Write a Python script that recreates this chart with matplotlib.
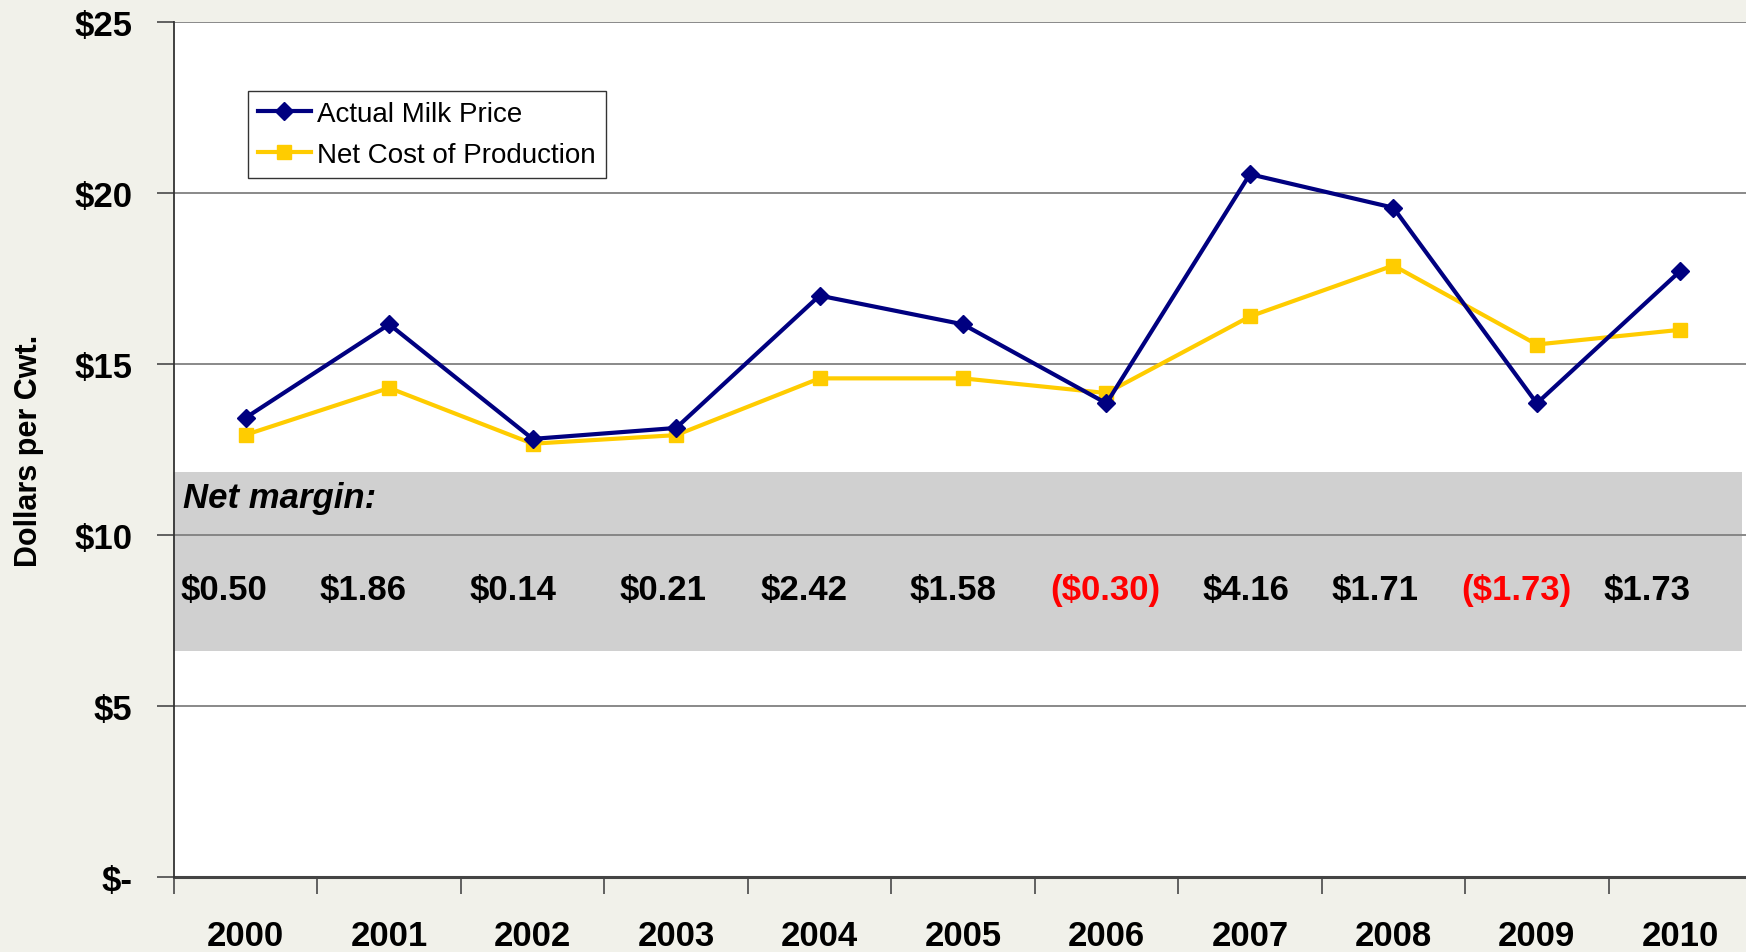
import matplotlib
matplotlib.use("Agg")
import matplotlib.pyplot as plt
from matplotlib.patches import Rectangle

plt.rcParams['font.family'] = ['Liberation Sans', 'DejaVu Sans']

years = ["2000", "2001", "2002", "2003", "2004", "2005", "2006", "2007", "2008", "2009", "2010"]
milk_price = [13.43, 16.16, 12.81, 13.13, 17.00, 16.16, 13.85, 20.55, 19.57, 13.85, 17.72]
net_cost = [12.93, 14.30, 12.67, 12.92, 14.58, 14.58, 14.15, 16.39, 17.88, 15.57, 16.00]
margin_labels = ["$0.50", "$1.86", "$0.14", "$0.21", "$2.42", "$1.58", "($0.30)",
                 "$4.16", "$1.71", "($1.73)", "$1.73"]
margin_negative = [False, False, False, False, False, False, True, False, False, True, False]
ytick_vals = [0, 5, 10, 15, 20, 25]
ytick_labels = ["$-", "$5", "$10", "$15", "$20", "$25"]

# label x offsets (layout only)
label_offsets = [-0.15, -0.18, -0.14, -0.09, -0.11, -0.07, -0.01, -0.03, -0.13, -0.14, -0.23]

W, H = 1746, 953
fig = plt.figure(figsize=(W / 100, H / 100), dpi=100)
fig.patch.set_facecolor('#F1F1EA')

ax = fig.add_axes([174 / W, 75 / H, (1752 - 174) / W, (878 - 23) / H])
ax.set_facecolor('white')

x = list(range(len(years)))
ax.set_xlim(-0.5, len(years) - 0.5)
ax.set_ylim(0, 25)

# gray band
ax.add_patch(Rectangle((-0.51, 6.6), 10.94, 11.83 - 6.6, facecolor='#D0D0D0',
                       edgecolor='none', zorder=0.5, clip_on=False))

# grid
for v in ytick_vals[1:]:
    ax.axhline(v, color='#808080', lw=1.3, zorder=1)

ax.plot(x, milk_price, color='#000080', lw=3, marker='D', markersize=9.5,
        label='Actual Milk Price', zorder=4)
ax.plot(x, net_cost, color='#FFCC00', lw=3, marker='s', markersize=10.5,
        label='Net Cost of Production', zorder=3)

ax.text(-0.44, 11.09, "Net margin:", fontsize=25, fontweight='bold', style='italic',
        va='center', ha='left', zorder=5)
for i, (lab, neg) in enumerate(zip(margin_labels, margin_negative)):
    ax.text(i + label_offsets[i], 8.42, lab, fontsize=25, fontweight='bold',
            color='#FF0000' if neg else 'black', ha='center', va='center', zorder=5)

ax.set_yticks(ytick_vals)
ax.set_yticklabels(ytick_labels, fontsize=25, fontweight='bold')
ax.set_xticks(x)
ax.set_xticklabels(years, fontsize=25, fontweight='bold')
ax.set_xticks([i + 0.5 for i in range(-1, len(years))], minor=True)
ax.tick_params(axis='x', which='major', length=0, pad=30)
ax.tick_params(axis='x', which='minor', length=12, width=1.3, color='#555555')
ax.tick_params(axis='y', length=12, width=1.3, color='#555555', pad=18)

for s in ['top', 'right']:
    ax.spines[s].set_visible(False)
ax.spines['left'].set_color('#333333')
ax.spines['left'].set_linewidth(1.3)
ax.spines['bottom'].set_color('#444444')
ax.spines['bottom'].set_linewidth(2.2)
ax.spines['left'].set_zorder(6)

ax.set_ylabel("Dollars per Cwt.", fontsize=22, fontweight='bold', labelpad=22)

leg = ax.legend(loc='upper left', bbox_to_anchor=(248 / W, 1 - 92 / H),
                bbox_transform=fig.transFigure, fontsize=20, frameon=True,
                fancybox=False, edgecolor='black', borderpad=0.35, labelspacing=0.55,
                handlelength=1.9, handletextpad=0.25, borderaxespad=0)
leg.get_frame().set_linewidth(1.0)

fig.savefig("out.png", dpi=100, facecolor=fig.get_facecolor())
